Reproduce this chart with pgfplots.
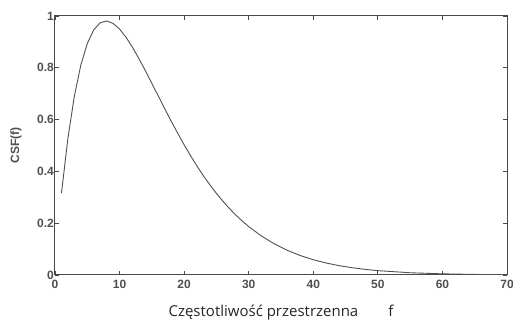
\documentclass[border=0pt]{standalone}
\usepackage{pgfplots}
\pgfplotsset{compat=1.18}
\usepackage{fontspec}
\setmainfont{Liberation Sans}
\newfontfamily\xlabfont{Open Sans}
\definecolor{axgray}{HTML}{484848}
\definecolor{labgray}{HTML}{505050}
\definecolor{curvegray}{HTML}{505050}
\begin{document}
\begin{tikzpicture}
\path[use as bounding box] (-55pt,-45pt) rectangle (458pt,275pt);
\begin{axis}[
  name=ax, at={(0,0)}, anchor=south west,
  scale only axis, width=452pt, height=259pt,
  xmin=0, xmax=70, ymin=0, ymax=1,
  xtick={0,10,...,70}, ytick={0,0.2,0.4,0.6,0.8,1},
  yticklabels={0,0.2,0.4,0.6,0.8,1},
  xticklabels={0,10,20,30,40,50,60,70},
  /pgf/number format/assume math mode=true,
  tick align=inside, major tick length=4pt,
  tick style={axgray, line width=0.8pt},
  axis line style={axgray, line width=1pt},
  ticklabel style={font=\fontsize{12}{13}\selectfont\bfseries, text=labgray, inner sep=2pt},
  xticklabel style={yshift=-3pt},
  yticklabel style={xshift=1pt},
  every axis x label/.style={at={(axis description cs:0.5,-0.1467)}, anchor=center},
  every axis y label/.style={at={(axis description cs:-0.0863,0.5)}, rotate=90, anchor=center},
  xlabel={\xlabfont Częstotliwość przestrzenna\hspace{30pt}f},
  xlabel style={font=\fontsize{15}{17}\selectfont, text=black!85},
  ylabel={CSF(f)},
  ylabel style={font=\fontsize{12}{13}\selectfont\bfseries, text=labgray},
  clip=true,
]
\addplot[curvegray, line width=0.9pt] coordinates {
(1,0.3160)(2,0.5280)(3,0.6907)(4,0.8105)(5,0.8938)(6,0.9464)(7,0.9738)
(8,0.9808)(9,0.9714)(10,0.9495)(11,0.9179)(12,0.8791)(13,0.8354)(14,0.7885)
(15,0.7400)(16,0.6908)(17,0.6417)(18,0.5938)(19,0.5474)(20,0.5027)
(21,0.4603)(22,0.4203)(23,0.3826)(24,0.3476)(25,0.3150)(26,0.2849)
(27,0.2571)(28,0.2316)(29,0.2083)(30,0.1870)(32,0.1500)(34,0.1197)
(36,0.0950)(38,0.0750)(40,0.0590)(42,0.0462)(44,0.0361)(46,0.0281)
(48,0.0218)(50,0.0168)(55,0.0087)(60,0.0045)(65,0.0022)(70,0.0011)
};
\end{axis}
\end{tikzpicture}
\end{document}
